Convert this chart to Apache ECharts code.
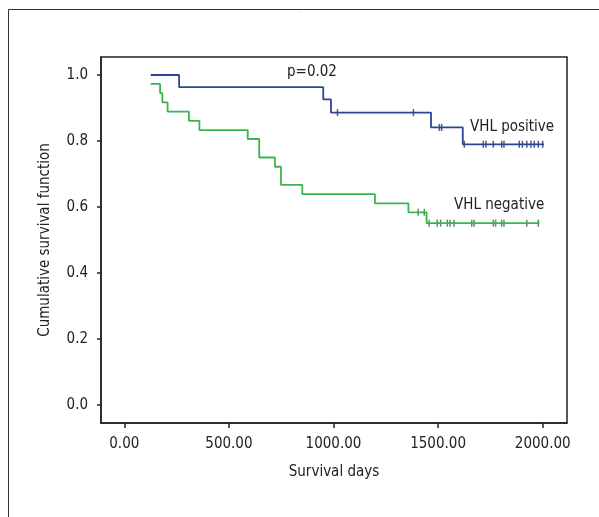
<!DOCTYPE html>
<html>
<head>
<meta charset="utf-8">
<script src="https://cdn.jsdelivr.net/npm/echarts@6/dist/echarts.min.js"></script>
<style>
  html, body { margin: 0; padding: 0; background: #fff; }
  #chart { width: 599px; height: 517px; }
</style>
</head>
<body>
<div id="chart"></div>
<script>
// Kaplan-Meier data (days, cumulative survival)
const posTimes = [126, 262, 951, 988, 1466, 1618, 2006]
const posSurv = [1.0, 0.963, 0.926, 0.886, 0.841, 0.790, 0.790]
const posCensor = [1019, 1382, 1506, 1517, 1625, 1716, 1729, 1764, 1804, 1815, 1888, 1903, 1924, 1944, 1960, 1979, 2000]

const negTimes = [126, 171, 182, 207, 309, 359, 590, 645, 720, 749, 851, 1198, 1358, 1445, 1984]
const negSurv = [0.973, 0.945, 0.917, 0.889, 0.861, 0.833, 0.806, 0.750, 0.722, 0.667, 0.639, 0.611, 0.584, 0.551, 0.551]
const negCensor = [1405, 1434, 1457, 1496, 1512, 1544, 1557, 1576, 1661, 1672, 1764, 1775, 1804, 1815, 1924, 1979]

const xTicks = [0, 500, 1000, 1500, 2000]
const yTicks = [0, 0.2, 0.4, 0.6, 0.8, 1.0]

const font = '"DejaVu Sans Condensed", "Liberation Sans Narrow", sans-serif'
const textColor = '#222'
const fontSize = 15

// survival value of the step curve at time t
const survAt = (times, surv, t) => {
  let v = surv[0]
  for (let i = 0; i < times.length; i++) {
    if (times[i] <= t) v = surv[i]
  }
  return v
}

const curve = (times, surv) => times.map((t, i) => [t, surv[i]])
const marks = (times, surv, cens) => cens.map(t => [t, survAt(times, surv, t)])

const chart = echarts.init(document.getElementById('chart'))

const option = {
  animation: false,
  backgroundColor: '#fff',
  // grid is the plot box; the axes are padded past the first and last tick
  grid: { left: 101, right: 32, top: 57, bottom: 94 },
  xAxis: {
    type: 'value',
    min: -111.4,
    max: 2116.2,
    name: 'Survival days',
    nameLocation: 'middle',
    nameGap: 42,
    nameTextStyle: { fontFamily: font, fontSize: fontSize, color: textColor },
    axisLine: { show: true, onZero: false, lineStyle: { color: textColor, width: 1.5 } },
    axisTick: { show: true, length: 5, customValues: xTicks, lineStyle: { color: textColor, width: 1.5 } },
    axisLabel: { fontFamily: font, fontSize: fontSize, color: textColor, margin: 14, customValues: xTicks, formatter: v => v.toFixed(2) },
    splitLine: { show: false }
  },
  yAxis: {
    type: 'value',
    min: -0.0545,
    max: 1.0545,
    name: 'Cumulative survival function',
    nameLocation: 'middle',
    nameGap: 48.5,
    nameTextStyle: { fontFamily: font, fontSize: fontSize, color: textColor },
    axisLine: { show: true, onZero: false, lineStyle: { color: textColor, width: 1.5 } },
    axisTick: { show: true, length: 4, customValues: yTicks, lineStyle: { color: textColor, width: 1.5 } },
    axisLabel: { fontFamily: font, fontSize: fontSize, color: textColor, margin: 13, customValues: yTicks, formatter: v => v.toFixed(1) },
    splitLine: { show: false }
  },
  graphic: [
    // outer figure frame
    { type: 'polyline', shape: { points: [[8.5, 517], [8.5, 9.5], [599, 9.5]] }, style: { stroke: '#333', lineWidth: 1, fill: null } },
    // plot box
    { type: 'rect', shape: { x: 101, y: 57, width: 466, height: 366 }, style: { stroke: textColor, lineWidth: 1.5, fill: null } },
    { type: 'text', left: 287, top: 65, style: { text: 'p=0.02', font: fontSize + 'px ' + font, fill: textColor } },
    { type: 'text', left: 470, top: 120, style: { text: 'VHL positive', font: fontSize + 'px ' + font, fill: textColor } },
    { type: 'text', left: 454, top: 198, style: { text: 'VHL negative', font: fontSize + 'px ' + font, fill: textColor } }
  ],
  series: [
    {
      name: 'VHL positive',
      type: 'line',
      step: 'end',
      showSymbol: false,
      data: curve(posTimes, posSurv),
      lineStyle: { color: '#2b4696', width: 1.8 }
    },
    {
      name: 'VHL negative',
      type: 'line',
      step: 'end',
      showSymbol: false,
      data: curve(negTimes, negSurv),
      lineStyle: { color: '#3cb34e', width: 1.8 }
    },
    {
      type: 'scatter',
      symbol: 'rect',
      symbolSize: [1.5, 7],
      data: marks(posTimes, posSurv, posCensor),
      itemStyle: { color: '#1d2f70' }
    },
    {
      type: 'scatter',
      symbol: 'rect',
      symbolSize: [1.5, 7],
      data: marks(negTimes, negSurv, negCensor),
      itemStyle: { color: '#1f7a30' }
    }
  ]
}

chart.setOption(option)
</script>
</body>
</html>
